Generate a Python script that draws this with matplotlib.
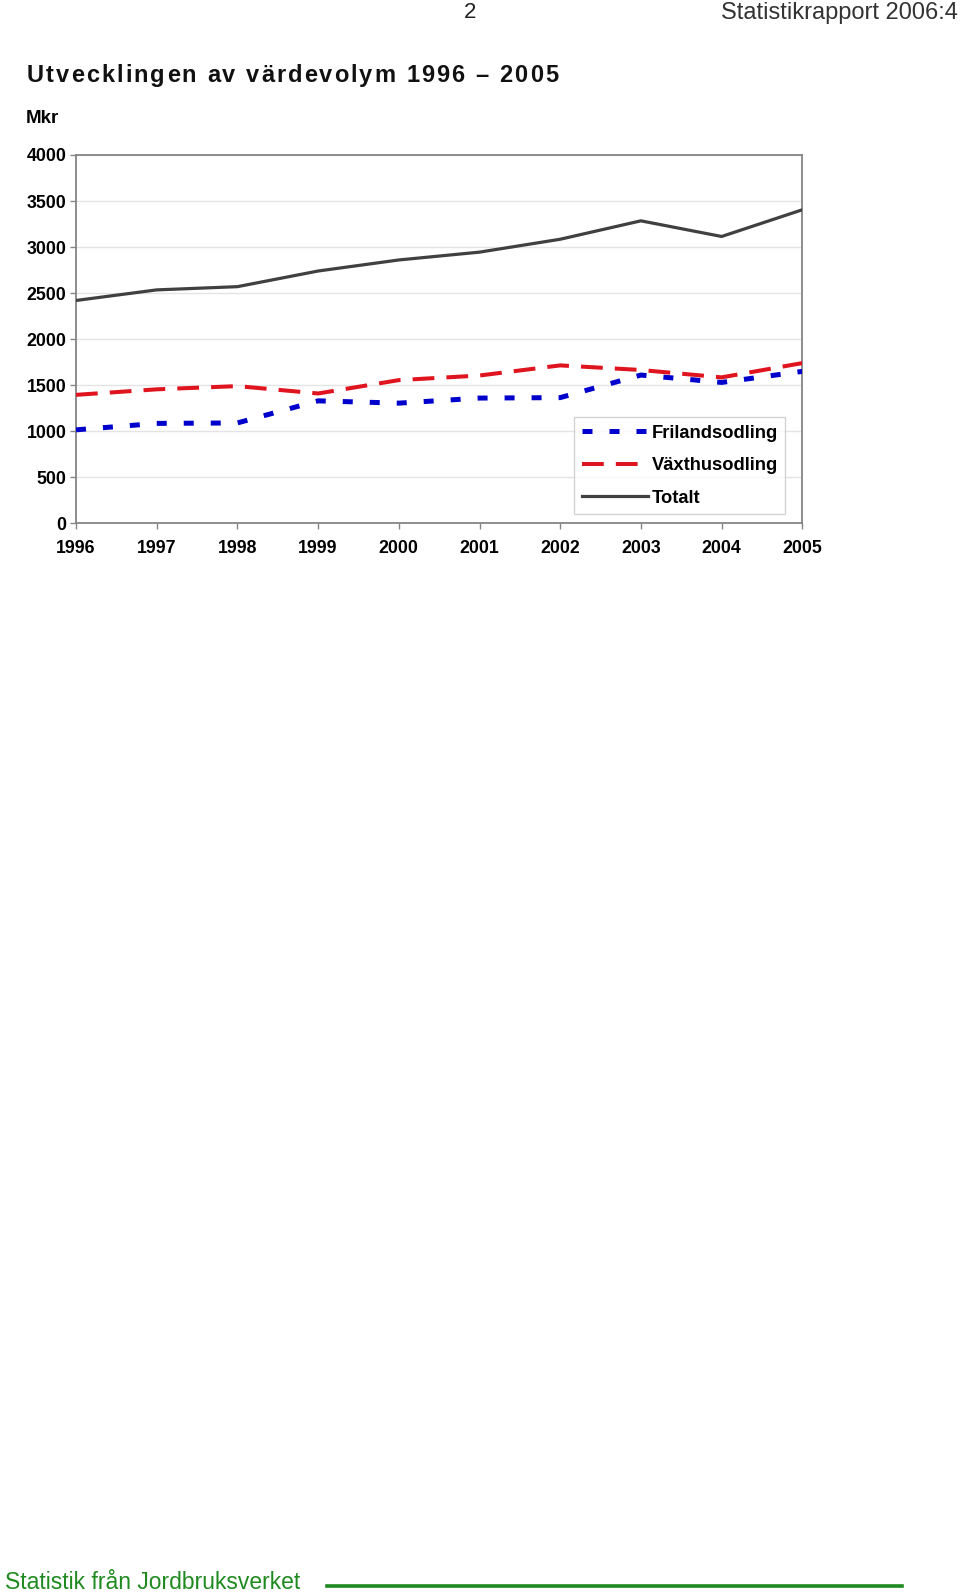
import numpy as np
import matplotlib
matplotlib.use("Agg")
import matplotlib.pyplot as plt
from matplotlib.lines import Line2D

years = [1996, 1997, 1998, 1999, 2000, 2001, 2002, 2003, 2004, 2005]
friland = [1015, 1085, 1090, 1330, 1305, 1360, 1365, 1610, 1530, 1650]
vaxthus = [1395, 1455, 1490, 1410, 1555, 1605, 1715, 1665, 1585, 1740]
totalt = [2420, 2535, 2570, 2740, 2860, 2945, 3085, 3285, 3115, 3405]
yticks = [0, 500, 1000, 1500, 2000, 2500, 3000, 3500, 4000]

W, H = 960, 1594
plt.rcParams['font.family'] = ['Liberation Sans', 'DejaVu Sans']
fig = plt.figure(figsize=(W/100, H/100), dpi=100)

def px(x, y):
    return x/W, 1 - y/H

# page header
fig.text(*px(470, 13), "2", fontsize=16, ha='center', va='center', color='#222222')
fig.text(*px(958, 13), "Statistikrapport 2006:4", fontsize=17, ha='right',
         va='center', color='#333333')

# title, letters spread out to fill a given width
def spaced_text(x0, x1, y, s, **kw):
    r = fig.canvas.get_renderer()
    texts, widths = [], []
    for ch in s:
        t = fig.text(*px(x0, y), ch, ha='left', va='center', **kw)
        w = t.get_window_extent(renderer=r).width
        if ch == " ":
            w = kw['fontsize'] * 100/72 * 0.28
        texts.append(t)
        widths.append(w)
    gap = (x1 - x0 - sum(widths)) / (len(s) - 1)
    xx = x0
    for t, w in zip(texts, widths):
        t.set_position(px(xx, y))
        xx += w + gap

spaced_text(27, 558, 75.5, "Utvecklingen av värdevolym 1996 – 2005",
            fontsize=17, fontweight='bold', color='#111111')
fig.text(*px(26, 118.5), "Mkr", fontsize=13.5, fontweight='bold', ha='left', va='center')

# chart
l, t, r_, b = 76, 155, 802.3, 523.3
ax = fig.add_axes([l/W, 1 - b/H, (r_ - l)/W, (b - t)/H])
ax.plot(years, friland, color='#0000cc', lw=3.6, linestyle=(0, (2.0, 3.4)),
        label='Frilandsodling', dash_capstyle='butt', zorder=3)
ax.plot(years, vaxthus, color='#e0141e', lw=2.9, linestyle=(0, (5.4, 3.0)),
        label='Växthusodling', dash_capstyle='butt', zorder=3)
ax.plot(years, totalt, color='#404040', lw=2.3, label='Totalt', zorder=3)

ax.set_xlim(1996, 2005)
ax.set_ylim(0, 4000)
ax.set_yticks(yticks)
ax.set_xticks(years)
ax.set_xticklabels([str(y) for y in years])
ax.grid(axis='y', color='#e4e4e4', lw=1, zorder=0)
ax.set_axisbelow(True)
for s in ax.spines.values():
    s.set_color('#858585')
    s.set_linewidth(1.3)
ax.tick_params(axis='both', direction='out', length=4, width=1, color='#858585',
               labelsize=12.8)
ax.tick_params(axis='y', pad=3)
ax.tick_params(axis='x', pad=8)
for lab in ax.get_xticklabels() + ax.get_yticklabels():
    lab.set_fontweight('bold')

leg = ax.legend(loc='lower right', bbox_to_anchor=((785 - l)/(r_ - l), (b - 514)/(b - t)),
                frameon=True, fancybox=False, edgecolor='#c8c8c8',
                prop={'weight': 'bold', 'size': 13.2}, handlelength=3.6,
                handletextpad=0.2, labelspacing=0.85, borderpad=0.4, borderaxespad=0)
leg.get_frame().set_linewidth(1)

# footer
fig.text(*px(5, 1589), "Statistik från Jordbruksverket", fontsize=16.5,
         color='#1f8a1f', ha='left', va='baseline')
fig.add_artist(Line2D([327/W, 902/W], [1 - 1586/H, 1 - 1586/H], color='#1f8a1f', lw=2.6))

fig.savefig("out.png", dpi=100)
